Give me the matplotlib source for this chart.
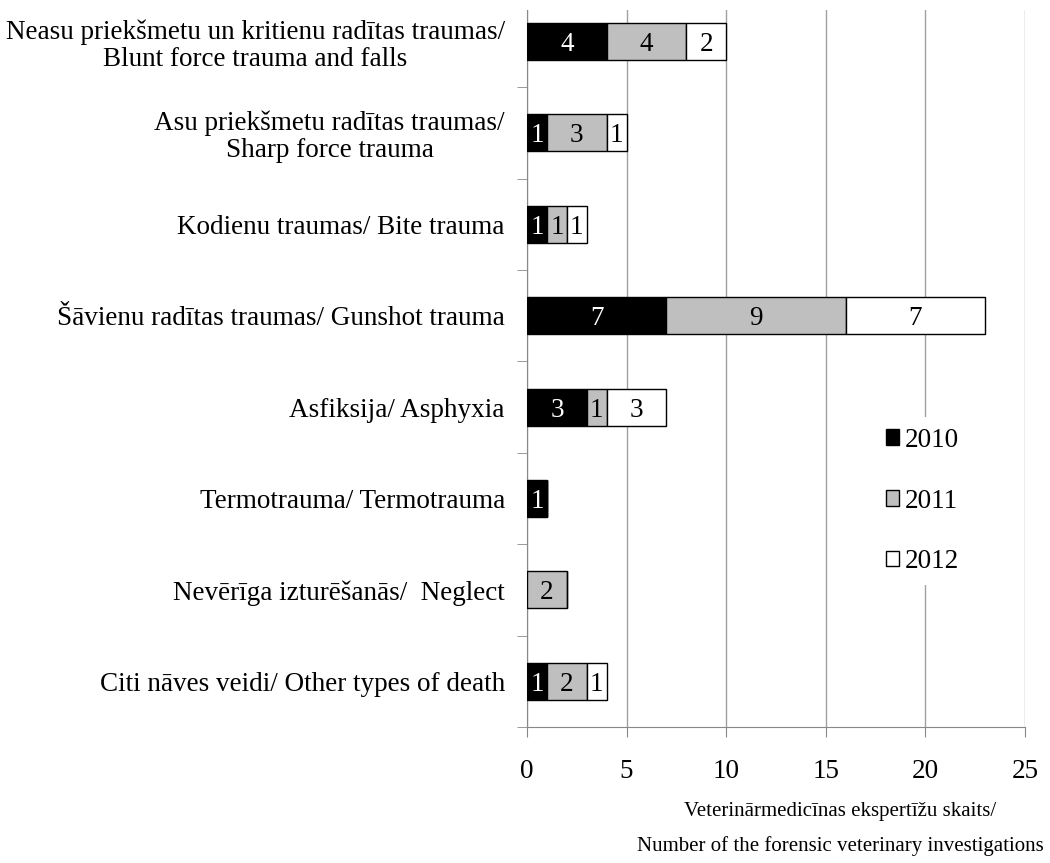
import matplotlib.pyplot as plt
import numpy as np

plt.rcParams['font.family'] = ['Liberation Serif', 'DejaVu Serif']

categories = [
    "Neasu priekšmetu un kritienu radītas traumas/\nBlunt force trauma and falls",
    "Asu priekšmetu radītas traumas/\nSharp force trauma",
    "Kodienu traumas/ Bite trauma",
    "Šāvienu radītas traumas/ Gunshot trauma",
    "Asfiksija/ Asphyxia",
    "Termotrauma/ Termotrauma",
    "Nevērīga izturēšanās/  Neglect",
    "Citi nāves veidi/ Other types of death",
]
years = ["2010", "2011", "2012"]
v2010 = [4, 1, 1, 7, 3, 1, 0, 1]
v2011 = [4, 3, 1, 9, 1, 0, 2, 2]
v2012 = [2, 1, 1, 7, 3, 0, 0, 1]

series = [v2010, v2011, v2012]
colors = ["black", "#bfbfbf", "white"]
text_colors = ["white", "black", "black"]
fs = 19.5

fig = plt.figure(figsize=(10.5, 8.63), dpi=100)
ax = fig.add_axes([527 / 1050, 1 - 727 / 863, 498 / 1050, 717 / 863])

y = np.arange(len(categories))
left = np.zeros(len(categories))
for vals, col, tcol, lab in zip(series, colors, text_colors, years):
    vals = np.array(vals, dtype=float)
    bars = ax.barh(y, vals, left=left, height=0.405, color=col,
                   edgecolor="black", linewidth=1, label=lab, zorder=3)
    for b, v in zip(bars, vals):
        if v > 0:
            ax.text(b.get_x() + b.get_width() / 2, b.get_y() + b.get_height() / 2,
                    f"{int(v)}", ha="center", va="center_baseline", color=tcol,
                    fontsize=fs, zorder=4)
    left += vals

ax.set_xticks(range(0, 26, 5))
ax.set_yticks(y)
ax.set_yticklabels(categories, fontsize=fs, multialignment="center", linespacing=1.1)
ax.set_yticks(np.arange(-0.5, 8, 1), minor=True)
ax.set_xlim(0, 25)
ax.set_ylim(7.5, 7.5 - 717 / 91.4)
ax.tick_params(axis="y", which="major", length=0, pad=16)
ax.tick_params(axis="y", which="minor", length=7, color="#888888", direction="out")
ax.tick_params(axis="x", length=7, color="#888888", labelsize=fs, pad=16)
ax.grid(axis="x", color="#a0a0a0", linewidth=1, zorder=0)

for s in ["top", "right"]:
    ax.spines[s].set_visible(False)
for s in ["left", "bottom"]:
    ax.spines[s].set_color("#888888")

ax.set_xlabel("Veterinārmedicīnas ekspertīžu skaits/\nNumber of the forensic veterinary investigations",
              fontsize=15, va="center", linespacing=1.95)
ax.xaxis.set_label_coords((840 - 527) / 498, -102 / 717)

leg = ax.legend(loc="center left", bbox_to_anchor=(0.699, (727 - 501) / 717),
                frameon=True, fontsize=fs, labelspacing=1.32, handlelength=0.5,
                handleheight=0.5, handletextpad=0.2, borderaxespad=0, borderpad=0.4)
leg.get_frame().set_edgecolor("none")
leg.get_frame().set_facecolor("white")
leg.get_frame().set_alpha(1)
leg.set_zorder(5)

fig.savefig("out.png", dpi=100)
